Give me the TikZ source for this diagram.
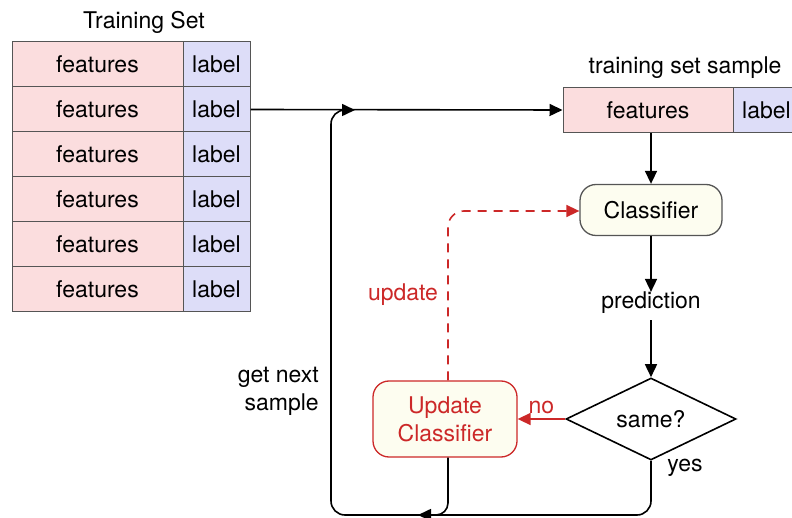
\documentclass[tikz,border=0pt]{standalone}
\usepackage{fontspec}
\setmainfont{TeX Gyre Heros}
\usetikzlibrary{shapes.geometric,arrows.meta}
\definecolor{featfill}{RGB}{251,221,222}
\definecolor{labfill}{RGB}{221,221,248}
\definecolor{cellline}{RGB}{85,85,85}
\definecolor{redc}{RGB}{204,40,40}
\definecolor{boxfill}{RGB}{253,253,240}
\begin{document}
\begin{tikzpicture}[x=1pt,y=-1pt,
  every node/.style={font=\fontsize{23}{28}\selectfont, inner sep=0pt},
  feat/.style={draw=cellline, line width=1pt, fill=featfill, minimum width=171pt, minimum height=45pt},
  lab/.style={draw=cellline, line width=1pt, fill=labfill, minimum width=67pt, minimum height=45pt},
  tip/.style={-{Triangle[length=13pt,width=12pt]}},
  conn/.style={line width=1.6pt, black},
  rbox/.style={draw, rounded corners=16pt, line width=1.3pt, fill=boxfill}
]
\useasboundingbox (0,0) rectangle (792,518);
\node (title) at (144,22) {Training Set};
\foreach \i in {1,...,6}{
  \node[feat] (f\i) at (97.5,{42+22.5+45*(\i-1)}) {features};
  \node[lab] (l\i) at (216.5,{42+22.5+45*(\i-1)}) {label};
}
\node (stitle) at (685,68) {training set sample};
\node[feat, minimum width=170pt] (sf) at (648,110) {features};
\node[lab] (sl) at (766.5,110) {label};

\node[rbox, draw=cellline, minimum width=142pt, minimum height=51pt] (cls) at (651,210) {Classifier};
\node (pred) at (651,303) {prediction};
\node[diamond, draw, line width=1.6pt, aspect=2, minimum width=170pt, minimum height=82pt] (same) at (651,419) {same?};
\node (yes) at (685,468) {yes};
\node[rbox, draw=redc, text=redc, align=center, minimum width=144pt, minimum height=76pt] (upd) at (445,419) {Update\\Classifier};
\node[text=redc] (upl) at (403,295) {update};
\node[align=right, anchor=east] (gns) at (319,391) {get next\\sample};

\draw[conn, tip] (l2.east) -- (sf.west);
\draw[conn, tip] (sf.south -| cls.north) -- (cls.north);
\draw[conn, tip] (cls.south) -- (pred.north);
\draw[conn, tip] (pred.south) ++(0,6) -- (same.north);
\draw[conn, redc, tip] (same.west) -- (upd.east) node[midway, above=4pt, text=redc, inner sep=0pt] (no) {no};
\draw[line width=1.6pt, redc, dashed, dash pattern=on 9pt off 7pt, tip, rounded corners=16pt] (upd.north -| 448,0) -- (448,211) -- (cls.west |- 0,211);
\draw[conn, tip, rounded corners=14pt] (same.south) -- (651,515) -- (331,515) -- (331,110) -- (355,110);
\draw[conn, tip, rounded corners=12pt] (upd.south -| 448,0) -- (448,515) -- (418,515);
\end{tikzpicture}
\end{document}
